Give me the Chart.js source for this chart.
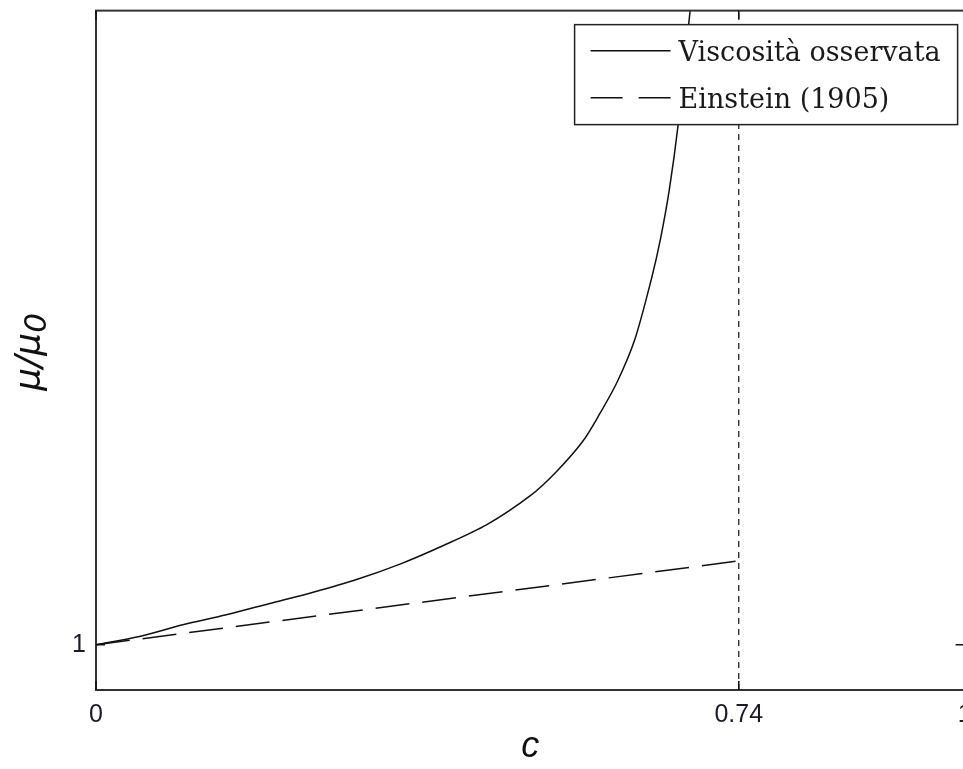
<!DOCTYPE html>
<html>
<head>
<meta charset="utf-8">
<script src="https://cdn.jsdelivr.net/npm/chart.js@4.4.0/dist/chart.umd.min.js"></script>
<style>
  html, body { margin: 0; padding: 0; background: #fff; overflow: hidden; }
  canvas { display: block; }
</style>
</head>
<body>
<canvas id="plot" width="1000" height="769"></canvas>
<script>
// Viscosità osservata
const cObs  = [0, 0.05, 0.10, 0.15, 0.20, 0.25, 0.30, 0.35, 0.40, 0.45, 0.50, 0.53, 0.56, 0.58, 0.60, 0.62, 0.64, 0.65, 0.66, 0.67, 0.684];
const muObs = [1.0, 1.18, 1.44, 1.66, 1.91, 2.16, 2.44, 2.78, 3.19, 3.65, 4.29, 4.82, 5.48, 6.10, 6.80, 7.72, 9.12, 9.97, 11.04, 12.45, 15.0];

// Einstein (1905)
const cEin  = [0, 0.74];
const muEin = [1, 2.85];

// linea verticale a c = 0.74
const cLim  = [0.74, 0.74];
const muLim = [0, 15];

const xTicks = [0, 0.74, 1];
const yTicks = [1];

const legendLabels = ['Viscosità osservata', 'Einstein (1905)'];

const toXY = (xs, ys) => xs.map((x, i) => ({ x: x, y: ys[i] }));

// cornice, tacche interne, etichetta y e legenda
const framePlugin = {
    id: 'frame',
    afterDatasetsDraw(chart) {
        const { ctx, chartArea: a, scales } = chart;
        ctx.save();
        ctx.strokeStyle = '#333';
        ctx.lineWidth = 2;
        ctx.strokeRect(a.left, a.top, a.right - a.left, a.bottom - a.top);

        // tacche verso l'interno
        ctx.lineWidth = 1.5;
        ctx.strokeStyle = '#111';
        ctx.beginPath();
        xTicks.forEach(v => {
            const px = scales.x.getPixelForValue(v);
            ctx.moveTo(px, a.bottom); ctx.lineTo(px, a.bottom - 9);
            ctx.moveTo(px, a.top);    ctx.lineTo(px, a.top + 9);
        });
        yTicks.forEach(v => {
            const py = scales.y.getPixelForValue(v);
            ctx.moveTo(a.left, py);  ctx.lineTo(a.left + 9, py);
            ctx.moveTo(a.right, py); ctx.lineTo(a.right - 9, py);
        });
        ctx.stroke();

        // etichetta asse y: mu / mu_0
        ctx.save();
        ctx.translate(31, (a.top + a.bottom) / 2);
        ctx.rotate(-Math.PI / 2);
        ctx.fillStyle = '#111';
        ctx.font = 'oblique 36px "DejaVu Sans"';
        ctx.textBaseline = 'middle';
        const main = 'μ/μ';
        const wMain = ctx.measureText(main).width;
        const wSub = ctx.measureText('0').width;
        const x0 = -(wMain + wSub) / 2;
        ctx.fillText(main, x0, 0);
        ctx.font = 'oblique 31px "DejaVu Sans"';
        ctx.fillText('0', x0 + wMain, 7);
        ctx.restore();

        // legenda
        const lw = 383, lh = 100;
        const lx = a.right - 7 - lw, ly = a.top + 14;
        ctx.fillStyle = '#fff';
        ctx.fillRect(lx, ly, lw, lh);
        ctx.strokeStyle = '#222';
        ctx.lineWidth = 1.5;
        ctx.strokeRect(lx, ly, lw, lh);

        const dashes = [[], [32, 16]];
        ctx.font = '27px "DejaVu Serif"';
        ctx.textBaseline = 'middle';
        legendLabels.forEach((lab, i) => {
            const yy = ly + 26 + i * 47;
            ctx.strokeStyle = '#111';
            ctx.lineWidth = 1.5;
            ctx.setLineDash(dashes[i]);
            ctx.beginPath();
            ctx.moveTo(lx + 16, yy);
            ctx.lineTo(lx + 96, yy);
            ctx.stroke();
            ctx.setLineDash([]);
            ctx.fillStyle = '#1a1a1a';
            ctx.fillText(lab, lx + 104, yy + 3);
        });
        ctx.restore();
    }
};

const ctx = document.getElementById('plot').getContext('2d');
const chart = new Chart(ctx, {
    type: 'line',
    data: {
        datasets: [{
            label: legendLabels[0],
            data: toXY(cObs, muObs),
            borderColor: '#111',
            borderWidth: 1.5,
            pointRadius: 0,
            tension: 0.3,
            fill: false
        }, {
            label: legendLabels[1],
            data: toXY(cEin, muEin),
            borderColor: '#111',
            borderWidth: 1.5,
            borderDash: [34, 13],
            pointRadius: 0,
            fill: false
        }, {
            label: 'c = 0.74',
            data: toXY(cLim, muLim),
            borderColor: '#111',
            borderWidth: 1.2,
            borderDash: [6, 5],
            pointRadius: 0,
            fill: false
        }]
    },
    options: {
        responsive: false,
        animation: false,
        layout: {
            padding: { left: 0, right: 35.4, top: 0, bottom: 0 }
        },
        scales: {
            x: {
                type: 'linear',
                min: 0,
                max: 1,
                afterBuildTicks: s => { s.ticks = xTicks.map(v => ({ value: v })); },
                afterFit: s => { s.height = 79; },
                grid: { display: false, drawTicks: false },
                border: { display: true, color: '#333', width: 2 },
                ticks: {
                    color: '#1a1a2a',
                    font: { family: 'Liberation Sans', size: 25 },
                    padding: 10,
                    maxRotation: 0,
                    callback: v => String(v)
                },
                title: {
                    display: true,
                    text: 'c',
                    color: '#111',
                    font: { family: 'Liberation Sans', size: 36, style: 'italic' },
                    padding: { top: 0, bottom: 0 }
                }
            },
            y: {
                type: 'linear',
                min: 0,
                max: 15,
                afterBuildTicks: s => { s.ticks = yTicks.map(v => ({ value: v })); },
                afterFit: s => { s.width = 96; },
                grid: { display: false, drawTicks: false },
                border: { display: true, color: '#333', width: 2 },
                ticks: {
                    color: '#1a1a2a',
                    font: { family: 'Liberation Sans', size: 25, lineHeight: 0.05 },
                    padding: 10
                }
            }
        },
        plugins: {
            legend: { display: false },
            tooltip: { enabled: false }
        }
    },
    plugins: [framePlugin]
});
</script>
</body>
</html>
